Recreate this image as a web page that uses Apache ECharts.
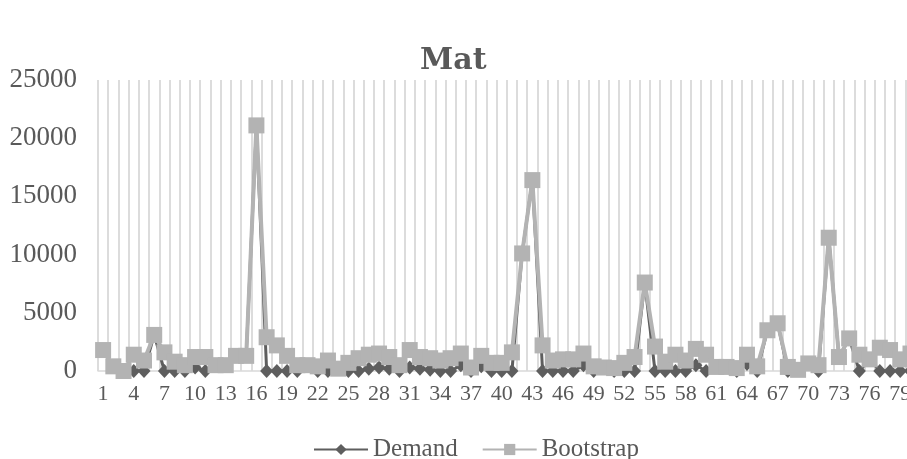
<!DOCTYPE html>
<html>
<head>
<meta charset="utf-8">
<script src="https://cdn.jsdelivr.net/npm/echarts@6/dist/echarts.min.js"></script>
<style>
html,body{margin:0;padding:0;background:#fff;overflow:hidden;width:907px;height:459px;}
#c{width:960px;height:459px;}
</style>
</head>
<body>
<div id="c"></div>
<script>
const titleText = 'Mat';
const seriesNames = ['Demand', 'Bootstrap'];
const categories = [];
for (let i = 1; i <= 80; i++) categories.push(String(i));

const demand = [
  1800, 400, 0, 0, 0, 3100, 0, 0, 0, 300,
  0, 500, 500, 1300, 1300, 21100, 0, 0, 0, 0,
  500, 0, 0, 200, 0, 0, 200, 300, 200, 0,
  300, 200, 100, 0, 0, 500, 0, 400, 0, 0,
  0, 10100, 16400, 0, 0, 0, 0, 500, 0, 300,
  0, 0, 0, 7600, 0, 0, 0, 0, 500, 0,
  350, 350, 0, 600, 0, 3500, 4100, 0, 100, 650,
  0, 11450, 1200, 2800, 0, 1000, 0, 0, 0, 0
];

const bootstrap = [
  1800, 400, 0, 1400, 900, 3100, 1600, 800, 500, 1200,
  1200, 500, 500, 1300, 1300, 21100, 2900, 2200, 1300, 500,
  500, 400, 900, 200, 700, 1100, 1400, 1500, 1200, 500,
  1800, 1200, 1100, 900, 1100, 1500, 300, 1300, 700, 700,
  1600, 10100, 16400, 2200, 900, 1000, 1000, 1500, 400, 300,
  250, 700, 1200, 7600, 2100, 800, 1400, 900, 1900, 1400,
  350, 350, 250, 1400, 400, 3500, 4100, 350, 100, 650,
  500, 11450, 1200, 2800, 1400, 1000, 2000, 1800, 1000, 1500
];

const yMin = 0, yMax = 25000, yStep = 5000;

const chart = echarts.init(document.getElementById('c'), null, {renderer: 'canvas'});
const txt = '#595959';
chart.setOption({
  animation: false,
  backgroundColor: '#ffffff',
  title: {
    text: titleText,
    left: 415,
    top: 41,
    textStyle: {fontFamily: 'DejaVu Serif', fontWeight: 'bold', fontSize: 30, color: txt}
  },
  legend: {
    data: seriesNames,
    left: 308,
    top: 432,
    itemWidth: 54,
    itemHeight: 14,
    itemGap: 24,
    textStyle: {fontFamily: 'Liberation Serif', fontSize: 25, color: txt}
  },
  grid: {left: 98, top: 80, height: 291, width: 817.6, containLabel: false},
  xAxis: {
    type: 'category',
    data: categories,
    boundaryGap: true,
    axisLine: {show: true, lineStyle: {color: '#d9d9d9', width: 1.5}},
    axisTick: {show: false},
    axisLabel: {interval: 2, margin: 12, fontFamily: 'Liberation Serif', fontSize: 22, color: txt},
    splitLine: {show: true, interval: 0, lineStyle: {color: '#dcdcdc', width: 2}}
  },
  yAxis: {
    type: 'value',
    min: yMin, max: yMax, interval: yStep,
    axisLine: {show: false},
    axisTick: {show: false},
    splitLine: {show: false},
    axisLabel: {margin: 21, fontFamily: 'Liberation Serif', fontSize: 27, color: txt,
      formatter: v => String(v)}
  },
  series: [
    {
      name: seriesNames[0],
      type: 'line',
      data: demand,
      symbol: 'diamond',
      symbolSize: [13, 14],
      showAllSymbol: true,
      color: '#5e5e5e',
      itemStyle: {color: '#5e5e5e'},
      lineStyle: {color: '#5e5e5e', width: 3},
      z: 2
    },
    {
      name: seriesNames[1],
      type: 'line',
      data: bootstrap,
      symbol: 'rect',
      symbolSize: 16,
      showAllSymbol: true,
      color: '#b3b3b3',
      itemStyle: {color: '#b3b3b3'},
      lineStyle: {color: '#b3b3b3', width: 4},
      z: 3
    }
  ]
});
</script>
</body>
</html>
